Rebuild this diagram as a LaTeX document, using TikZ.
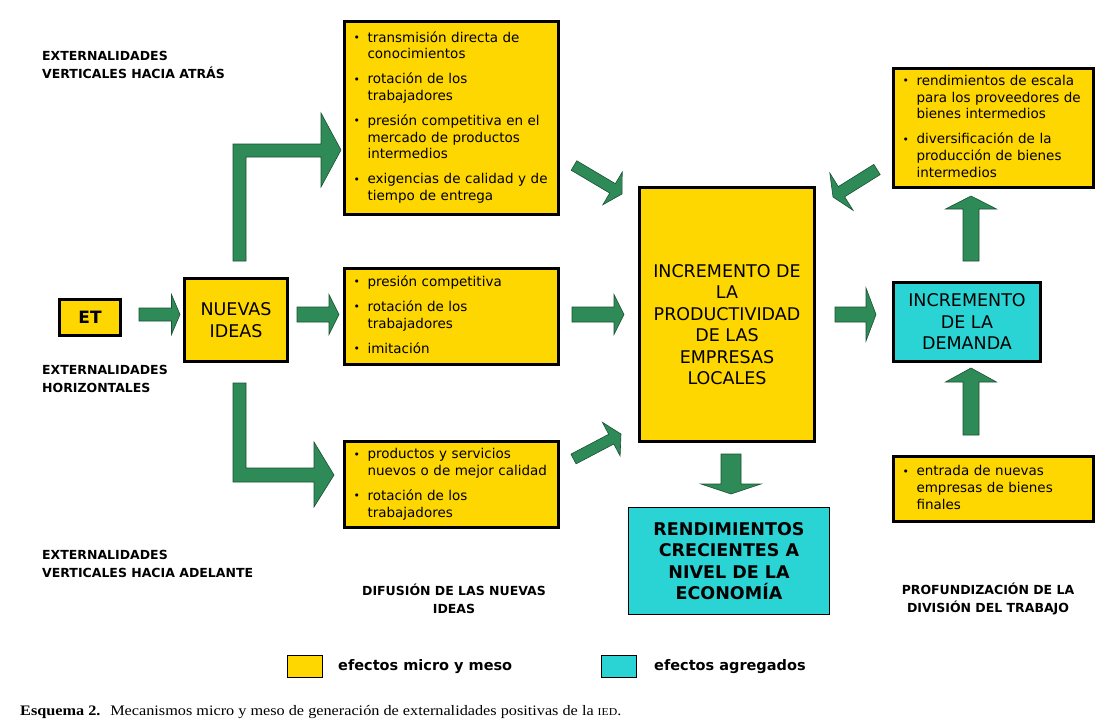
\documentclass[tikz,border=0pt]{standalone}
\usepackage{fontspec}
\usepackage{graphicx}
\setmainfont{DejaVu Sans}
\newfontfamily\capserif{Liberation Serif}
\usetikzlibrary{calc}
\definecolor{gold}{RGB}{255,215,0}
\definecolor{aqua}{RGB}{42,212,212}
\definecolor{agreen}{RGB}{46,139,87}
\definecolor{aline}{RGB}{25,80,50}
\newcommand{\bl}{\makebox[14pt][l]{\raisebox{0.5pt}{\scalebox{0.8}{\textbullet}}}}
\newcommand{\ig}{8.3pt}
% block arrow: tail, tip, shaft half-width, head half-width, head length
\newcommand{\barrow}[5]{%
  \coordinate (bh) at ($(#2)!#5!(#1)$);
  \filldraw[garrow] ($(#1)!#3!90:(#2)$) -- ($(bh)!#3!-90:(#1)$) -- ($(bh)!#4!-90:(#1)$) -- (#2)
    -- ($(bh)!#4!90:(#1)$) -- ($(bh)!#3!90:(#1)$) -- ($(#1)!#3!-90:(#2)$) -- cycle;}
\begin{document}
\begin{tikzpicture}[x=1pt,y=-1pt,
  ybox/.style={draw=black,line width=3pt,fill=gold,inner sep=0pt},
  cbox/.style={draw=black,line width=3pt,fill=aqua,inner sep=0pt},
  lbox/.style={ybox,inner xsep=9pt,align=left,font=\fontsize{13.5}{16.7}\selectfont},
  bigtxt/.style={align=center,font=\fontsize{17.5}{21.5}\selectfont},
  lab/.style={align=left,font=\bfseries\fontsize{12.5}{18}\selectfont,inner sep=0pt},
  clab/.style={align=center,font=\bfseries\fontsize{12.5}{18}\selectfont,inner sep=0pt},
  legtxt/.style={anchor=west,inner sep=0pt,font=\bfseries\fontsize{14.5}{16}\selectfont},
  garrow/.style={fill=agreen,draw=aline,line width=0.6pt,line join=miter}]
\fill[white] (0,0) rectangle (1103,728);
\useasboundingbox (0,0) rectangle (1103,728);

% side labels
\node[lab,anchor=west] (l1) at (42,65) {EXTERNALIDADES\\VERTICALES HACIA ATRÁS};
\node[lab,anchor=west] (l2) at (42,379) {EXTERNALIDADES\\HORIZONTALES};
\node[lab,anchor=west] (l3) at (42,564) {EXTERNALIDADES\\VERTICALES HACIA ADELANTE};
\node[clab] (l4) at (454,599) {DIFUSIÓN DE LAS NUEVAS\\IDEAS};
\node[clab] (l5) at (988,599) {PROFUNDIZACIÓN DE LA\\DIVISIÓN DEL TRABAJO};

% boxes
\node[ybox,minimum width=61pt,minimum height=36pt,font=\bfseries\fontsize{17}{20}\selectfont] (et) at (90,317.5) {ET};
\node[ybox,minimum width=103pt,minimum height=83pt,bigtxt] (ni) at (236,320) {NUEVAS\\IDEAS};

\node[lbox,text width=196pt,minimum height=193pt] (tb) at (451.5,118) {%
\begin{tabular}{@{}l@{}l@{}}
\bl & transmisión directa de\\ & conocimientos\\[\ig]
\bl & rotación de los\\ & trabajadores\\[\ig]
\bl & presión competitiva en el\\ & mercado de productos\\ & intermedios\\[\ig]
\bl & exigencias de calidad y de\\ & tiempo de entrega
\end{tabular}};

\node[lbox,text width=196pt,minimum height=96pt] (mb) at (451.5,316.5) {%
\begin{tabular}{@{}l@{}l@{}}
\bl & presión competitiva\\[\ig]
\bl & rotación de los\\ & trabajadores\\[\ig]
\bl & imitación
\end{tabular}};

\node[lbox,text width=196pt,minimum height=86pt] (bb) at (451.5,484.5) {%
\begin{tabular}{@{}l@{}l@{}}
\bl & productos y servicios\\ & nuevos o de mejor calidad\\[\ig]
\bl & rotación de los\\ & trabajadores
\end{tabular}};

\node[ybox,minimum width=175pt,minimum height=254pt] (prod) at (727,314.5) {};
\node[bigtxt] (prodtxt) at (727,324.5) {INCREMENTO DE\\LA\\PRODUCTIVIDAD\\DE LAS\\EMPRESAS\\LOCALES};

\node[cbox,line width=1pt,minimum width=201pt,minimum height=107pt,bigtxt,font=\bfseries\fontsize{17.5}{21.5}\selectfont] (rend) at (729,561) {RENDIMIENTOS\\CRECIENTES A\\NIVEL DE LA\\ECONOMÍA};

\node[cbox,minimum width=147pt,minimum height=79pt,bigtxt] (dem) at (967,322) {INCREMENTO\\DE LA\\DEMANDA};

\node[lbox,text width=182pt,minimum height=119pt] (trb) at (993.5,128) {%
\begin{tabular}{@{}l@{}l@{}}
\bl & rendimientos de escala\\ & para los proveedores de\\ & bienes intermedios\\[\ig]
\bl & diversificación de la\\ & producción de bienes\\ & intermedios
\end{tabular}};

\node[lbox,text width=182pt,minimum height=65pt] (brb) at (993.5,489) {%
\begin{tabular}{@{}l@{}l@{}}
\bl & entrada de nuevas\\ & empresas de bienes\\ & finales
\end{tabular}};

% straight block arrows
\coordinate (a1s) at (139,314.5); \coordinate (a1e) at (180,314.5);
\coordinate (a2s) at (297,314.5); \coordinate (a2e) at (339,314.5);
\coordinate (a3s) at (572,314.5); \coordinate (a3e) at (624,314.5);
\coordinate (a4s) at (835,314.5); \coordinate (a4e) at (876,314.5);
\coordinate (a5s) at (731,454);   \coordinate (a5e) at (731,494);
\coordinate (a6s) at (971,435);   \coordinate (a6e) at (971,368);
\coordinate (a7s) at (971,261);   \coordinate (a7e) at (971,196);
\coordinate (a8s) at (574,165.5); \coordinate (a8e) at (622,194);
\coordinate (a9s) at (573.5,459); \coordinate (a9e) at (621,434);
\coordinate (a10s) at (877,169.5); \coordinate (a10e) at (833,197);
\barrow{a1s}{a1e}{6.5pt}{20pt}{8.5pt}
\barrow{a2s}{a2e}{7.5pt}{20pt}{10pt}
\barrow{a3s}{a3e}{7.5pt}{20pt}{10pt}
\barrow{a4s}{a4e}{7.5pt}{26.5pt}{10pt}
\barrow{a5s}{a5e}{10pt}{30pt}{10pt}
\barrow{a6s}{a6e}{8pt}{25.5pt}{14pt}
\barrow{a7s}{a7e}{8pt}{25.5pt}{13pt}
\barrow{a8s}{a8e}{5.5pt}{19pt}{11pt}
\barrow{a9s}{a9e}{5.5pt}{19pt}{11pt}
\barrow{a10s}{a10e}{6pt}{22pt}{10pt}

% L-shaped arrows
\filldraw[garrow] (233,261) -- (233,144) -- (321,144) -- (321,113) -- (341,150)
  -- (321,187) -- (321,157) -- (246,157) -- (246,261) -- cycle;
\filldraw[garrow] (233,383) -- (246,383) -- (246,468) -- (314,468) -- (314,442)
  -- (334,475) -- (314,507) -- (314,482) -- (233,482) -- cycle;

% legend
\node[draw=black,line width=0.8pt,fill=gold,minimum width=35pt,minimum height=22pt,inner sep=0pt] (lg1) at (304.5,666) {};
\node[legtxt] (lg1t) at (338,667) {efectos micro y meso};
\node[draw=black,line width=0.8pt,fill=aqua,minimum width=35pt,minimum height=22pt,inner sep=0pt] (lg2) at (618.5,666) {};
\node[legtxt] (lg2t) at (654,667) {efectos agregados};

% caption
\node[anchor=west,inner sep=0pt,font=\capserif\fontsize{14.5}{16}\selectfont] (cap) at (20,712)
  {\scalebox{1.12}[1]{\textbf{Esquema 2.}\hspace{0.6em}Mecanismos micro y meso de generación de externalidades positivas de la {\fontsize{10.5}{12}\selectfont IED}.}};
\end{tikzpicture}
\end{document}
